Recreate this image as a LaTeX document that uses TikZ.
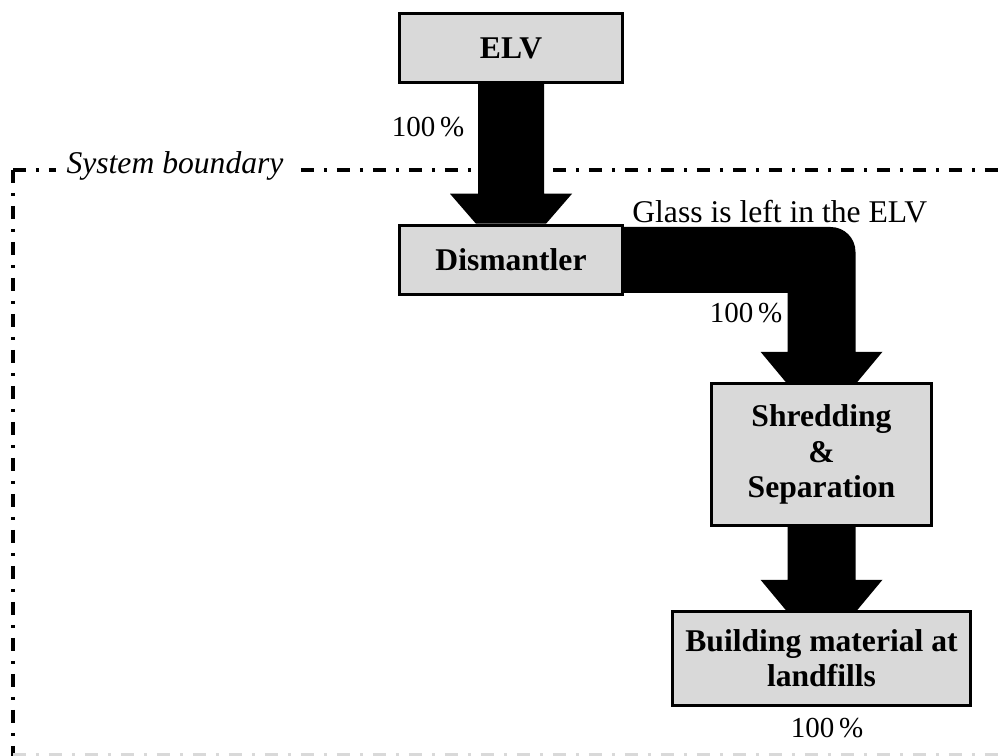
\documentclass[tikz,border=0pt]{standalone}
\usepackage{fontspec}
\setmainfont{Liberation Serif}
\usetikzlibrary{calc}

\tikzset{
	stage/.style={draw, line width=2pt, fill=black!15, align=center, inner sep=0pt,
		font=\fontsize{18}{20}\selectfont\bfseries},
	share/.style={font=\fontsize{16.5}{19}\selectfont},
	boundary/.style={line width=2.3pt, dash pattern=on 0.26cm off 0.2cm on 0.06cm off 0.2cm},
}

\begin{document}
\begin{tikzpicture}[x=0.02cm, y=-0.02cm]
	\useasboundingbox (0,0) rectangle (998,756);

	% system boundary
	\draw[boundary] (13,170) -- (998,170);
	\draw[boundary] (13,170) -- (13,760);
	\draw[boundary, black!15] (13,755.5) -- (998,755.5);
	\node[fill=white, inner xsep=6pt, inner ysep=2pt, font=\fontsize{18}{20}\selectfont\itshape] (sysb) at (175,166) {System boundary};

	% stages
	\node[stage, minimum width=4.46cm, minimum height=1.38cm] (elv) at (511,48) {ELV};
	\node[stage, minimum width=4.46cm, minimum height=1.38cm] (dism) at (511,260) {Dismantler};
	\node[stage, minimum width=4.4cm, minimum height=2.84cm] (shred) at (821.5,454.5) {Shredding\\\&\\Separation};
	\node[stage, minimum width=5.96cm, minimum height=1.88cm] (land) at (821.5,658.5) {Building material at\\landfills};

	% flows
	\fill ($(elv.south)+(-33,0)$) -- ($(elv.south)+(33,0)$) -- ($(dism.north)+(33,-30)$) -- ($(dism.north)+(61,-30)$)
		-- ($(dism.north)+(35,0)$) -- ($(dism.north)+(-35,0)$) -- ($(dism.north)+(-61,-30)$) -- ($(dism.north)+(-33,-30)$) -- cycle;

	\coordinate (bend) at (dism.east -| shred.north);
	\fill ($(dism.east)+(0,-33)$) -- ($(bend)+(9,-33)$) .. controls ($(bend)+(23,-33)$) and ($(bend)+(34,-22)$) .. ($(bend)+(34,-8)$)
		-- ($(shred.north)+(34,-30)$) -- ($(shred.north)+(61,-30)$) -- ($(shred.north)+(36,0)$) -- ($(shred.north)+(-36,0)$)
		-- ($(shred.north)+(-61,-30)$) -- ($(shred.north)+(-34,-30)$) -- ($(bend)+(-34,33)$) -- ($(dism.east)+(0,33)$) -- cycle;

	\fill ($(shred.south)+(-34,0)$) -- ($(shred.south)+(34,0)$) -- ($(land.north)+(34,-30)$) -- ($(land.north)+(61,-30)$)
		-- ($(land.north)+(36,0)$) -- ($(land.north)+(-36,0)$) -- ($(land.north)+(-61,-30)$) -- ($(land.north)+(-34,-30)$) -- cycle;

	% labels
	\node[share] (pelv) at (428,127) {100\,\%};
	\node[share] (pdism) at (746,313) {100\,\%};
	\node[share] (pland) at (827,728) {100\,\%};
	\node[anchor=base west, inner sep=0pt, font=\fontsize{18}{20}\selectfont] (glass) at (632,223) {Glass is left in the ELV};
\end{tikzpicture}
\end{document}
